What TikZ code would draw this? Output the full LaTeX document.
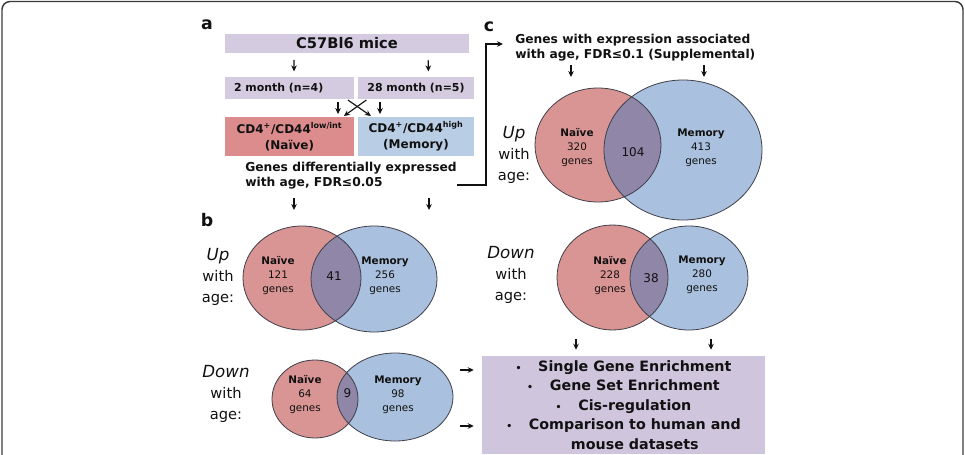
\documentclass[tikz,border=0pt]{standalone}
\usepackage{fontspec}
\setmainfont{DejaVu Sans}
\usetikzlibrary{arrows.meta,positioning}
\definecolor{lavender}{HTML}{D5CBE0}
\definecolor{boxlav}{HTML}{CFC5DD}
\definecolor{naivered}{HTML}{DC8C8C}
\definecolor{memblue}{HTML}{B9CDE5}
\definecolor{vennred}{HTML}{D99594}
\definecolor{vennblue}{HTML}{A9C0DE}
\definecolor{vennmix}{HTML}{8F86A8}
\definecolor{vennline}{HTML}{3F3F4A}
\definecolor{frameline}{HTML}{3A3A3A}
\definecolor{dark}{HTML}{111111}

\newcommand{\blt}{\makebox[17pt][l]{\fontsize{7}{7}\selectfont•}}
\newcommand{\vennpair}[8]{%
  \fill[vennred] (#1,#2) ellipse [x radius=#3, y radius=#4];
  \fill[vennblue] (#5,#6) ellipse [x radius=#7, y radius=#8];
  \begin{scope}
    \clip (#1,#2) ellipse [x radius=#3, y radius=#4];
    \fill[vennmix] (#5,#6) ellipse [x radius=#7, y radius=#8];
  \end{scope}
  \draw[vennedge] (#1,#2) ellipse [x radius=#3, y radius=#4];
  \draw[vennedge] (#5,#6) ellipse [x radius=#7, y radius=#8];
}

\begin{document}
\begin{tikzpicture}[x=0.75pt, y=-0.75pt,
  panel/.style={font=\fontsize{13}{13}\selectfont\bfseries, text=dark, inner sep=0pt},
  fbox/.style={inner sep=0pt, align=center, text=dark},
  head/.style={inner sep=0pt, align=left, text=dark,
               font=\fontsize{9.2}{11.4}\selectfont\bfseries},
  agelabel/.style={inner sep=0pt, align=center, text=dark,
                   font=\fontsize{11}{16}\selectfont},
  vlabel/.style={inner sep=0pt, align=center, text=dark,
                 font=\fontsize{7.8}{10.5}\selectfont},
  vmid/.style={inner sep=0pt, text=dark, font=\fontsize{9}{9}\selectfont},
  vennedge/.style={draw=vennline, line width=0.6pt},
  arr/.style={-{Stealth[length=4.5pt, width=4.2pt]}, line width=0.85pt, dark},
  frame/.style={draw=frameline, line width=1.1pt, rounded corners=6pt}
]
  \useasboundingbox (0,0) rectangle (965,454);
  \draw[frame] (2,470) -- (2,1.5) -- (963,1.5) -- (963,470);

  % panel a
  \node[panel] (la) at (207,25) {a};
  \node[fbox, fill=lavender, minimum width=183pt, minimum height=14.25pt,
        font=\fontsize{11}{13}\selectfont\bfseries] (mice) at (347,43.5) {C57Bl6 mice};
  \node[fbox, fill=lavender, minimum height=16.5pt, text width=83pt, inner xsep=6.75pt,
        align=left, font=\fontsize{8.2}{10}\selectfont\bfseries] (m2) at (289.5,88) {2 month (n=4)};
  \node[fbox, fill=lavender, minimum width=87pt, minimum height=16.5pt,
        font=\fontsize{8.2}{10}\selectfont\bfseries] (m28) at (416,88) {28 month (n=5)};
  \node[fbox, fill=naivered, minimum width=96.75pt, minimum height=29.25pt,
        font=\fontsize{9}{12}\selectfont\bfseries] (naive) at (289.5,136.5)
    {CD4\textsuperscript{+}/CD44\textsuperscript{low/int}\\(Naïve)};
  \node[fbox, fill=memblue, minimum width=87pt, minimum height=29.25pt,
        font=\fontsize{9}{12}\selectfont\bfseries] (memory) at (416,136.5)
    {CD4\textsuperscript{+}/CD44\textsuperscript{high}\\(Memory)};

  \draw[arr, shorten <=5pt, shorten >=4pt] ([xshift=-39.75pt]mice.south) -- ([xshift=3.4pt]m2.north);
  \draw[arr, shorten <=5pt, shorten >=4pt] ([xshift=60.75pt]mice.south) -- ([xshift=9.4pt]m28.north);
  \draw[arr, shorten <=2.2pt, shorten >=2pt] ([xshift=36.4pt]m2.south) -- ([xshift=36.4pt]naive.north);
  \draw[arr, shorten <=2.2pt, shorten >=2pt] ([xshift=-27pt]m28.south) -- ([xshift=-27pt]memory.north);
  \draw[arr, shorten <=1pt, shorten >=1pt] ([xshift=43pt]m2.south) -- ([xshift=-33pt]memory.north);
  \draw[arr, shorten <=1pt, shorten >=1pt] ([xshift=-36.4pt]m28.south) -- ([xshift=40pt]naive.north);

  \node[head, anchor=west] (dege) at (245,175.5)
    {Genes differentially expressed\\with age, FDR≤0.05};

  % panel c
  \node[panel] (lc) at (489,27) {c};
  \node[head, anchor=west] (chead) at (515,48)
    {Genes with expression associated\\with age, FDR≤0.1 (Supplemental)};
  \coordinate (degeOut) at (457,185);
  \coordinate (cIn) at (503,44);
  \draw[arr] (degeOut) -- ++(29,0) |- (cIn);

  \coordinate (cTopL) at (571,65);  \coordinate (cTopLend) at (571,77);
  \coordinate (cTopR) at (704,65);  \coordinate (cTopRend) at (704,77);
  \draw[arr] (cTopL) -- (cTopLend);
  \draw[arr] (cTopR) -- (cTopRend);

  \vennpair{598}{145}{63}{57}{683}{150}{79}{70}
  \node[agelabel] (cUp) at (514,155) {{\fontsize{12.5}{16}\selectfont\itshape Up}\\with\\age:};
  \node[vlabel] (cUpN) at (577,148) {\textbf{Naïve}\\320\\genes};
  \node[vmid] (cUpX) at (633,152) {104};
  \node[vlabel] (cUpM) at (701,148) {\textbf{Memory}\\413\\genes};

  \vennpair{612.5}{277.5}{55.5}{52.5}{689}{278}{59}{52}
  \node[agelabel] (cDown) at (511,275) {{\fontsize{12.5}{16}\selectfont\itshape Down}\\with\\age:};
  \node[vlabel] (cDownN) at (610,276) {\textbf{Naïve}\\228\\genes};
  \node[vmid] (cDownX) at (651,278) {38};
  \node[vlabel] (cDownM) at (702,275) {\textbf{Memory}\\280\\genes};

  % panel b
  \node[panel] (lb) at (207,220) {b};
  \coordinate (bTopL) at (294,198);  \coordinate (bTopLend) at (294,210);
  \coordinate (bTopR) at (429,198);  \coordinate (bTopRend) at (429,210);
  \draw[arr] (bTopL) -- (bTopLend);
  \draw[arr] (bTopR) -- (bTopRend);

  \vennpair{302}{278}{59}{52}{374}{279}{63}{53}
  \node[agelabel] (bUp) at (218,277) {{\fontsize{12.5}{16}\selectfont\itshape Up}\\with\\age:};
  \node[vlabel] (bUpN) at (278,276) {\textbf{Naïve}\\121\\genes};
  \node[vmid] (bUpX) at (334,276) {41};
  \node[vlabel] (bUpM) at (385,276) {\textbf{Memory}\\256\\genes};

  \vennpair{315}{399}{43}{39}{395}{397}{58}{44}
  \node[agelabel] (bDown) at (226,394) {{\fontsize{12.5}{16}\selectfont\itshape Down}\\with\\age:};
  \node[vlabel] (bDownN) at (305,395) {\textbf{Naïve}\\64\\genes};
  \node[vmid] (bDownX) at (347.5,393) {9};
  \node[vlabel] (bDownM) at (398,395) {\textbf{Memory}\\98\\genes};

  % downstream analyses
  \node[fbox, fill=boxlav, minimum width=212.25pt, minimum height=73.5pt,
        font=\fontsize{10.7}{14.6}\selectfont\bfseries] (analysis) at (623.5,405)
    {\blt Single Gene Enrichment\\
     \blt Gene Set Enrichment\\
     \blt Cis-regulation\\
     \blt Comparison to human and\\
     \phantom{\blt}mouse datasets};

  \coordinate (cBotL) at (576,339);
  \coordinate (cBotR) at (711,339);
  \draw[arr, shorten >=4.5pt] (cBotL) -- (cBotL |- analysis.north);
  \draw[arr, shorten >=4.5pt] (cBotR) -- (cBotR |- analysis.north);
  \coordinate (bOutT) at (460,370);
  \coordinate (bOutB) at (460,426);
  \draw[arr, shorten >=6pt] (bOutT) -- (bOutT -| analysis.west);
  \draw[arr, shorten >=6pt] (bOutB) -- (bOutB -| analysis.west);
\end{tikzpicture}
\end{document}
